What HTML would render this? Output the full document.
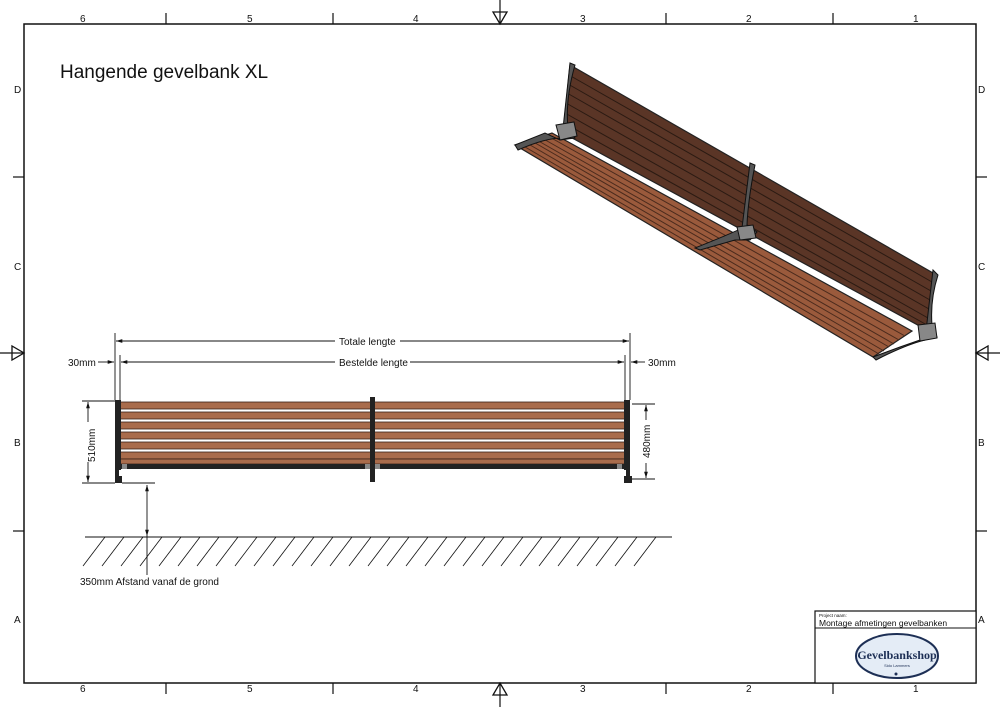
<!DOCTYPE html>
<html><head><meta charset="utf-8"><style>
html,body{margin:0;padding:0;background:#fff}
svg{display:block}
text{font-family:"Liberation Sans",sans-serif;fill:#111}
</style></head><body>
<svg width="1000" height="707" viewBox="0 0 1000 707" xmlns="http://www.w3.org/2000/svg">
<defs>
<marker id="ar" viewBox="0 0 10 10" refX="10" refY="5" markerWidth="7" markerHeight="7" orient="auto-start-reverse"><path d="M0,2 L10,5 L0,8 Z" fill="#111"/></marker>
</defs>
<rect x="24" y="24" width="952" height="659" fill="none" stroke="#111" stroke-width="1.5"/>
<g stroke="#111" stroke-width="1.2">
<line x1="166" y1="13" x2="166" y2="24"/><line x1="333" y1="13" x2="333" y2="24"/><line x1="666" y1="13" x2="666" y2="24"/><line x1="833" y1="13" x2="833" y2="24"/>
<line x1="166" y1="683" x2="166" y2="694"/><line x1="333" y1="683" x2="333" y2="694"/><line x1="666" y1="683" x2="666" y2="694"/><line x1="833" y1="683" x2="833" y2="694"/>
<line x1="13" y1="177" x2="24" y2="177"/><line x1="13" y1="531" x2="24" y2="531"/>
<line x1="976" y1="177" x2="987" y2="177"/><line x1="976" y1="531" x2="987" y2="531"/>
<line x1="500" y1="0" x2="500" y2="24"/><line x1="500" y1="683" x2="500" y2="707"/>
<line x1="0" y1="353" x2="24" y2="353"/><line x1="976" y1="353" x2="1000" y2="353"/>
</g>
<g fill="none" stroke="#111" stroke-width="1.3">
<path d="M493,12 L507,12 L500,24 Z"/><path d="M493,695 L507,695 L500,683 Z"/>
<path d="M12,346 L12,360 L24,353 Z"/><path d="M988,346 L988,360 L976,353 Z"/>
</g>
<g font-size="10">
<text x="80" y="22">6</text><text x="247" y="22">5</text><text x="413" y="22">4</text><text x="580" y="22">3</text><text x="746" y="22">2</text><text x="913" y="22">1</text>
<text x="80" y="692">6</text><text x="247" y="692">5</text><text x="413" y="692">4</text><text x="580" y="692">3</text><text x="746" y="692">2</text><text x="913" y="692">1</text>
<text x="14" y="93">D</text><text x="14" y="270">C</text><text x="14" y="446">B</text><text x="14" y="623">A</text>
<text x="978" y="93">D</text><text x="978" y="270">C</text><text x="978" y="446">B</text><text x="978" y="623">A</text>
</g>
<text x="60" y="78" font-size="19">Hangende gevelbank XL</text>

<polygon points="570,65 563,133 927,330 933,273" fill="#5a3526" stroke="#222" stroke-width="1.2"/>
<g stroke="#2a1a12" stroke-width="1">
<line x1="569" y1="75" x2="932" y2="282"/><line x1="568" y1="84" x2="931" y2="291"/><line x1="567" y1="93" x2="930" y2="300"/><line x1="566" y1="103" x2="929" y2="309"/><line x1="565" y1="113" x2="928" y2="318"/><line x1="564" y1="123" x2="927" y2="325"/>
</g>
<polygon points="515,145 552,133 912,331 873,357" fill="#9a5a3c" stroke="#222" stroke-width="1.2"/>
<g stroke="#4a2a1c" stroke-width="1">
<line x1="520" y1="144" x2="879" y2="354"/><line x1="525" y1="142" x2="884" y2="351"/><line x1="530" y1="140" x2="889" y2="347"/><line x1="535" y1="139" x2="894" y2="344"/><line x1="540" y1="137" x2="899" y2="340"/><line x1="546" y1="135" x2="905" y2="336"/>
</g>
<g fill="#555" stroke="#111" stroke-width="1">
<path d="M570,63 L575,65 Q565,100 568,128 L575,138 L560,140 L545,133 L515,145 L518,150 Q545,138 562,138 Z"/>
<path d="M556,125 L574,122 L577,136 L560,140 Z" fill="#888"/>
<path d="M933,270 L938,275 Q930,300 932,325 L937,337 L920,340 L900,347 L873,357 L876,360 Q905,345 925,340 Z"/>
<path d="M918,325 L935,323 L937,338 L920,341 Z" fill="#888"/>
<path d="M750,163 L755,165 Q748,200 747,225 L757,232 L750,240 L735,240 L700,250 L695,248 Q735,232 742,228 Z"/>
<path d="M737,227 L753,225 L756,238 L740,240 Z" fill="#888"/>
</g>

<g stroke="#111" stroke-width="0.9" fill="none">
<line x1="115" y1="333" x2="115" y2="400"/><line x1="630" y1="333" x2="630" y2="400"/>
<line x1="120" y1="355" x2="120" y2="400"/><line x1="625" y1="355" x2="625" y2="400"/>
<line x1="116" y1="341" x2="335" y2="341" marker-start="url(#ar)"/><line x1="400" y1="341" x2="629" y2="341" marker-end="url(#ar)"/>
<line x1="121" y1="362" x2="335" y2="362" marker-start="url(#ar)"/><line x1="410" y1="362" x2="624" y2="362" marker-end="url(#ar)"/>
<line x1="98" y1="362" x2="114" y2="362" marker-end="url(#ar)"/>
<line x1="645" y1="362" x2="631" y2="362" marker-end="url(#ar)"/>
<line x1="82" y1="401" x2="115" y2="401"/><line x1="82" y1="483" x2="115" y2="483"/>
<line x1="88" y1="402" x2="88" y2="422" marker-start="url(#ar)"/><line x1="88" y1="462" x2="88" y2="482" marker-end="url(#ar)"/>
<line x1="632" y1="404" x2="655" y2="404"/><line x1="632" y1="479" x2="655" y2="479"/>
<line x1="646" y1="405" x2="646" y2="420" marker-start="url(#ar)"/><line x1="646" y1="463" x2="646" y2="478" marker-end="url(#ar)"/>
<line x1="122" y1="483" x2="155" y2="483"/>
<line x1="147" y1="485" x2="147" y2="536" marker-start="url(#ar)" marker-end="url(#ar)"/>
<line x1="147" y1="536" x2="147" y2="575"/>
<line x1="85" y1="537" x2="672" y2="537"/>
</g>
<g stroke="#111" stroke-width="0.8">
<line x1="105" y1="537" x2="83" y2="566"/><line x1="124" y1="537" x2="102" y2="566"/><line x1="143" y1="537" x2="121" y2="566"/><line x1="162" y1="537" x2="140" y2="566"/><line x1="181" y1="537" x2="159" y2="566"/><line x1="200" y1="537" x2="178" y2="566"/><line x1="219" y1="537" x2="197" y2="566"/><line x1="238" y1="537" x2="216" y2="566"/><line x1="257" y1="537" x2="235" y2="566"/><line x1="276" y1="537" x2="254" y2="566"/><line x1="295" y1="537" x2="273" y2="566"/><line x1="314" y1="537" x2="292" y2="566"/><line x1="333" y1="537" x2="311" y2="566"/><line x1="352" y1="537" x2="330" y2="566"/><line x1="371" y1="537" x2="349" y2="566"/><line x1="390" y1="537" x2="368" y2="566"/><line x1="409" y1="537" x2="387" y2="566"/><line x1="428" y1="537" x2="406" y2="566"/><line x1="447" y1="537" x2="425" y2="566"/><line x1="466" y1="537" x2="444" y2="566"/><line x1="485" y1="537" x2="463" y2="566"/><line x1="504" y1="537" x2="482" y2="566"/><line x1="523" y1="537" x2="501" y2="566"/><line x1="542" y1="537" x2="520" y2="566"/><line x1="561" y1="537" x2="539" y2="566"/><line x1="580" y1="537" x2="558" y2="566"/><line x1="599" y1="537" x2="577" y2="566"/><line x1="618" y1="537" x2="596" y2="566"/><line x1="637" y1="537" x2="615" y2="566"/><line x1="656" y1="537" x2="634" y2="566"/>
</g>
<g font-size="10">
<text x="339" y="345">Totale lengte</text>
<text x="339" y="366">Bestelde lengte</text>
<text x="68" y="366">30mm</text>
<text x="648" y="366">30mm</text>
<text x="80" y="585">350mm Afstand vanaf de grond</text>
<text transform="translate(95,462) rotate(-90)">510mm</text>
<text transform="translate(650,458) rotate(-90)">480mm</text>
</g>

<rect x="120" y="402" width="505" height="66" fill="#fff"/>
<g fill="#a96c4c" stroke="#3a2418" stroke-width="0.8">
<rect x="120" y="402" width="505" height="7"/>
<rect x="120" y="412" width="505" height="7"/>
<rect x="120" y="422" width="505" height="7"/>
<rect x="120" y="432" width="505" height="7"/>
<rect x="120" y="442" width="505" height="7"/>
<rect x="120" y="452" width="505" height="7"/>
<rect x="120" y="459" width="505" height="5"/>
</g>
<rect x="120" y="464" width="505" height="5" fill="#222"/>
<g fill="#222">
<rect x="115" y="400" width="6" height="70"/><rect x="624" y="400" width="6" height="70"/>
<rect x="370" y="397" width="5" height="85"/>
<rect x="115" y="470" width="4" height="12"/><rect x="115" y="476" width="7" height="7"/>
<rect x="626" y="470" width="4" height="12"/><rect x="624" y="476" width="8" height="7"/>
</g>
<g fill="#888"><rect x="122" y="464" width="5" height="5"/><rect x="617" y="464" width="5" height="5"/><rect x="365" y="464" width="5" height="5"/><rect x="375" y="464" width="5" height="5"/></g>

<rect x="815" y="611" width="161" height="72" fill="#fff" stroke="#111" stroke-width="1.2"/>
<line x1="815" y1="628" x2="976" y2="628" stroke="#111" stroke-width="1"/>
<text x="819" y="617" font-size="4.5">Project naam:</text>
<text x="819" y="626" font-size="8.5">Montage afmetingen gevelbanken</text>
<ellipse cx="897" cy="656" rx="41" ry="22" fill="#e4ecf6" stroke="#1d2f55" stroke-width="2"/>
<text x="897" y="659" font-size="12" font-weight="bold" text-anchor="middle" style="font-family:'Liberation Serif',serif;fill:#1d2f55">Gevelbankshop</text>
<text x="897" y="667" font-size="4" text-anchor="middle" style="fill:#1d2f55">Sido Lammers</text>
<circle cx="896" cy="674" r="1.5" fill="#1d2f55"/>
</svg>
</body></html>
